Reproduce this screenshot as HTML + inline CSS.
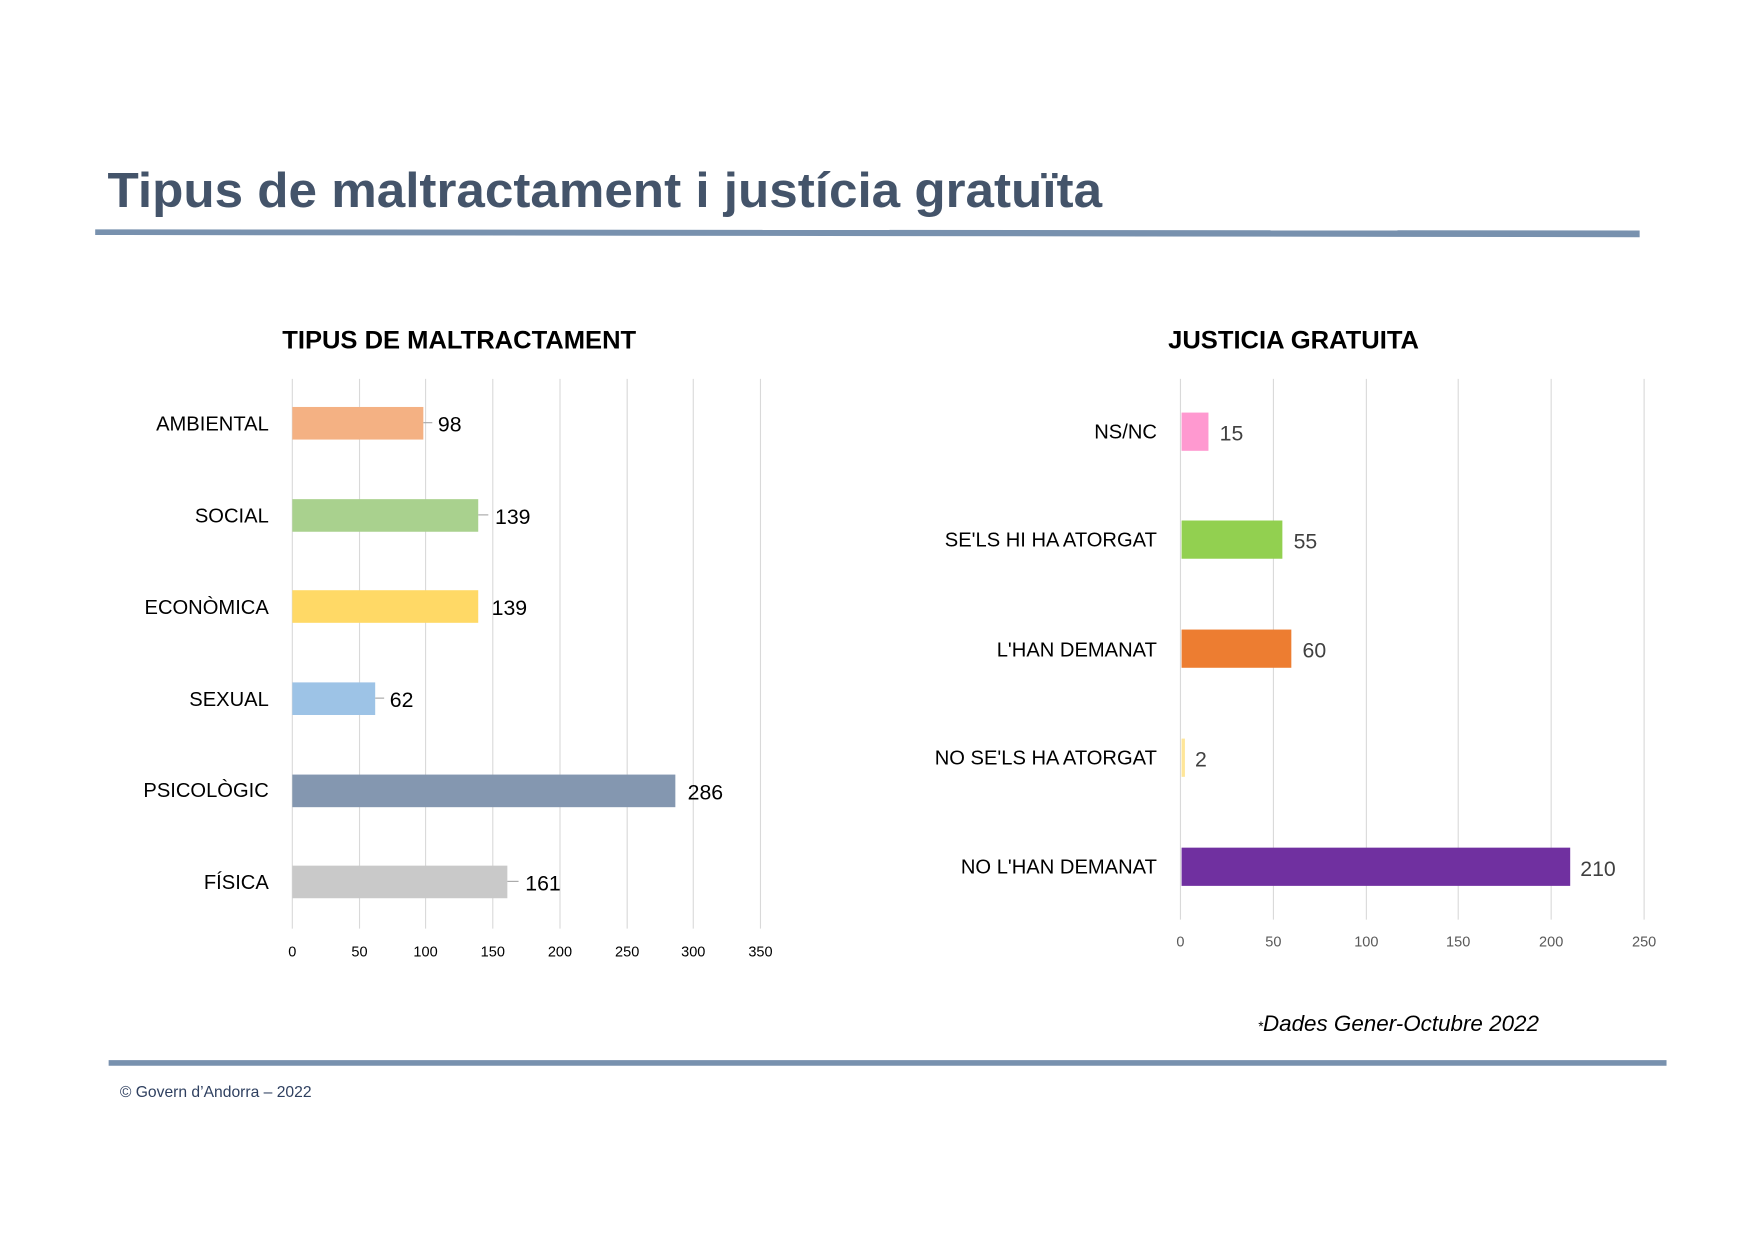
<!DOCTYPE html>
<html><head><meta charset="utf-8"><style>
html,body{margin:0;padding:0;background:#fff;}
svg{display:block;}
text{font-family:"Liberation Sans",sans-serif;}
.l{font-size:18px;fill:#000;text-anchor:end;}
.v{font-size:19px;fill:#000;}
.t{font-size:13px;fill:#000;text-anchor:middle;}
.t2{font-size:13px;fill:#595959;text-anchor:middle;}
</style></head><body>
<svg width="1755" height="1240" viewBox="0 0 1567 1103" preserveAspectRatio="none" xmlns="http://www.w3.org/2000/svg">
<rect width="1567" height="1103" fill="#fff"/>
<text x="96" y="184" font-size="44" font-weight="bold" fill="#44546a" textLength="888" lengthAdjust="spacingAndGlyphs">Tipus de maltractament i justícia gratuïta</text>
<polygon points="85,204 1464,205 1464,211 85,209" fill="#7891ae"/>
<rect x="97" y="943" width="1391" height="5" fill="#7891ae"/>
<text x="107" y="976" font-size="14" fill="#2f4060">© Govern d’Andorra – 2022</text>

<!-- Left chart -->
<text x="410" y="310" font-size="22" font-weight="bold" text-anchor="middle" textLength="316" lengthAdjust="spacingAndGlyphs">TIPUS DE MALTRACTAMENT</text>
<g stroke="#d9d9d9" stroke-width="1">
<line x1="261" y1="337" x2="261" y2="826"/><line x1="321" y1="337" x2="321" y2="826"/><line x1="380" y1="337" x2="380" y2="826"/><line x1="440" y1="337" x2="440" y2="826"/><line x1="500" y1="337" x2="500" y2="826"/><line x1="560" y1="337" x2="560" y2="826"/><line x1="619" y1="337" x2="619" y2="826"/><line x1="679" y1="337" x2="679" y2="826"/>
</g>
<g>
<text class="t" x="261" y="851">0</text><text class="t" x="321" y="851">50</text><text class="t" x="380" y="851">100</text><text class="t" x="440" y="851">150</text><text class="t" x="500" y="851">200</text><text class="t" x="560" y="851">250</text><text class="t" x="619" y="851">300</text><text class="t" x="679" y="851">350</text>
</g>
<rect x="261" y="362" width="117" height="29" fill="#f4b183"/>
<rect x="261" y="444" width="166" height="29" fill="#a9d18e"/>
<rect x="261" y="525" width="166" height="29" fill="#ffd966"/>
<rect x="261" y="607" width="74" height="29" fill="#9dc3e6"/>
<rect x="261" y="689" width="342" height="29" fill="#8497b0"/>
<rect x="261" y="770" width="192" height="29" fill="#c9c9c9"/>
<g stroke="#a6a6a6"><line x1="378" y1="376" x2="386" y2="376"/><line x1="427" y1="458" x2="436" y2="458"/><line x1="335" y1="621" x2="343" y2="621"/><line x1="453" y1="784" x2="463" y2="784"/></g>
<text class="l" x="240" y="383">AMBIENTAL</text><text class="v" x="391" y="384">98</text>
<text class="l" x="240" y="465">SOCIAL</text><text class="v" x="442" y="466">139</text>
<text class="l" x="240" y="546">ECONÒMICA</text><text class="v" x="439" y="547">139</text>
<text class="l" x="240" y="628">SEXUAL</text><text class="v" x="348" y="629">62</text>
<text class="l" x="240" y="709">PSICOLÒGIC</text><text class="v" x="614" y="711">286</text>
<text class="l" x="240" y="791">FÍSICA</text><text class="v" x="469" y="792">161</text>

<!-- Right chart -->
<text x="1155" y="310" font-size="22" font-weight="bold" text-anchor="middle" textLength="224" lengthAdjust="spacingAndGlyphs">JUSTICIA GRATUITA</text>
<g stroke="#d9d9d9" stroke-width="1">
<line x1="1054" y1="337" x2="1054" y2="818"/><line x1="1137" y1="337" x2="1137" y2="818"/><line x1="1220" y1="337" x2="1220" y2="818"/><line x1="1302" y1="337" x2="1302" y2="818"/><line x1="1385" y1="337" x2="1385" y2="818"/><line x1="1468" y1="337" x2="1468" y2="818"/>
</g>
<g>
<text class="t2" x="1054" y="842">0</text><text class="t2" x="1137" y="842">50</text><text class="t2" x="1220" y="842">100</text><text class="t2" x="1302" y="842">150</text><text class="t2" x="1385" y="842">200</text><text class="t2" x="1468" y="842">250</text>
</g>
<rect x="1055" y="367" width="24" height="34" fill="#ff99d0"/>
<rect x="1055" y="463" width="90" height="34" fill="#92d050"/>
<rect x="1055" y="560" width="98" height="34" fill="#ed7d31"/>
<rect x="1055" y="657" width="3" height="34" fill="#ffe699"/>
<rect x="1055" y="754" width="347" height="34" fill="#7030a0"/>
<text class="l" x="1033" y="390">NS/NC</text><text class="v" x="1089" y="392" style="fill:#404040">15</text>
<text class="l" x="1033" y="486">SE'LS HI HA ATORGAT</text><text class="v" x="1155" y="488" style="fill:#404040">55</text>
<text class="l" x="1033" y="584">L'HAN DEMANAT</text><text class="v" x="1163" y="585" style="fill:#404040">60</text>
<text class="l" x="1033" y="680">NO SE'LS HA ATORGAT</text><text class="v" x="1067" y="682" style="fill:#404040">2</text>
<text class="l" x="1033" y="777">NO L'HAN DEMANAT</text><text class="v" x="1411" y="779" style="fill:#404040">210</text>

<text x="1123" y="917" font-size="20" font-style="italic"><tspan font-size="12">*</tspan>Dades  Gener-Octubre 2022</text>
</svg>
</body></html>
